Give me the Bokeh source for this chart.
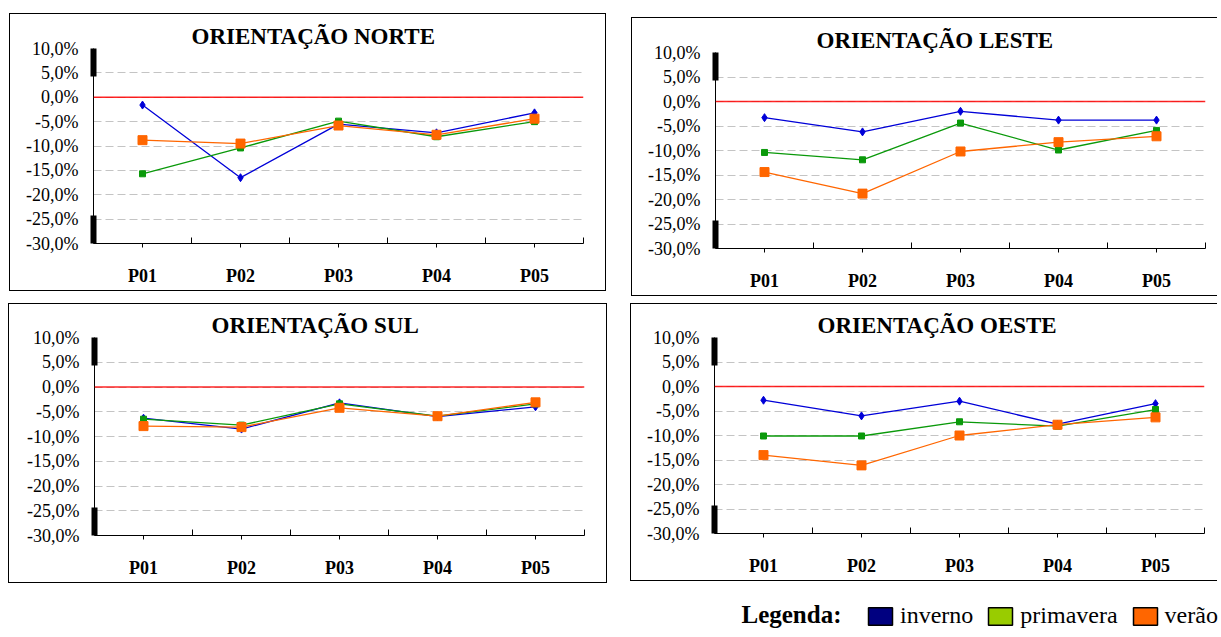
from bokeh.plotting import figure
from bokeh.models import Range1d, LinearAxis, FixedTicker, Grid, Span, Legend, LegendItem, Label
from bokeh.layouts import row, column
from bokeh.embed import file_html
from bokeh.resources import INLINE

# ---------------- data ----------------
categories = ["P01", "P02", "P03", "P04", "P05"]
series_names = ["inverno", "primavera", "verão"]
panel_titles = ["ORIENTAÇÃO NORTE", "ORIENTAÇÃO LESTE", "ORIENTAÇÃO SUL", "ORIENTAÇÃO OESTE"]
y_ticks = [-30, -25, -20, -15, -10, -5, 0, 5, 10]
y_tick_labels = ["-30,0%", "-25,0%", "-20,0%", "-15,0%", "-10,0%", "-5,0%", "0,0%", "5,0%", "10,0%"]
legend_title = "Legenda:"

norte_inverno = [-1.6, -16.5, -5.5, -7.3, -3.2]
norte_primavera = [-15.7, -10.4, -4.9, -8.1, -5.0]
norte_verao = [-8.8, -9.5, -5.8, -7.7, -4.4]

leste_inverno = [-3.3, -6.2, -2.0, -3.8, -3.8]
leste_primavera = [-10.4, -11.9, -4.4, -9.9, -5.9]
leste_verao = [-14.4, -18.8, -10.2, -8.3, -7.1]

sul_inverno = [-6.3, -8.5, -3.2, -6.0, -4.0]
sul_primavera = [-6.5, -7.7, -3.4, -5.9, -3.4]
sul_verao = [-7.9, -8.1, -4.2, -5.9, -3.1]

oeste_inverno = [-2.8, -6.0, -3.0, -7.7, -3.5]
oeste_primavera = [-10.1, -10.1, -7.2, -8.1, -4.7]
oeste_verao = [-14.0, -16.1, -10.0, -7.8, -6.3]

reference_value = 0.0

# ---------------- style ----------------
SERIF = "Liberation Serif"
line_colors = ["#0000D8", "#0A990A", "#FF6600"]
markers = ["diamond", "square", "square"]
marker_sizes = [8, 6, 9]
legend_colors = ["#000080", "#99CC00", "#FF6600"]
BORDER = "1px solid #000000"

xs = list(range(1, len(categories) + 1))


def make_panel(title, series, width, height, mb_left, mb_top, frame_h, title_offset,
               margin, styles, frame_w=490):
    p = figure(width=width, height=height,
               x_range=Range1d(0.5, len(categories) + 0.5),
               y_range=Range1d(y_ticks[0], y_ticks[-1]),
               x_axis_type=None, y_axis_type=None,
               toolbar_location=None, output_backend="svg",
               min_border_left=mb_left, min_border_top=mb_top,
               min_border_right=width - mb_left - frame_w,
               min_border_bottom=height - mb_top - frame_h,
               outline_line_color=None, background_fill_color="white",
               border_fill_color="white", title=title, margin=margin, styles=styles)
    p.title.align = "left"
    p.title.offset = title_offset
    p.title.standoff = 0
    p.title.text_font = SERIF
    p.title.text_font_size = "23px"
    p.title.text_font_style = "bold"
    p.title.text_color = "black"

    # thick black marks on the value axis (broken-axis look)
    for b in [(4.3, y_ticks[-1]), (y_ticks[0], -24.3)]:
        ta = LinearAxis(ticker=FixedTicker(ticks=[]), bounds=b, axis_line_width=6,
                        axis_line_color="black", major_tick_line_color=None,
                        minor_tick_line_color=None, major_label_text_font_size="0px",
                        major_label_standoff=0)
        p.add_layout(ta, "left")

    ya = LinearAxis(ticker=FixedTicker(ticks=y_ticks),
                    major_label_overrides=dict(zip(y_ticks, y_tick_labels)),
                    major_tick_in=0, major_tick_out=0, minor_tick_line_color=None,
                    major_label_standoff=15, axis_line_color="black",
                    major_label_text_font=SERIF, major_label_text_font_size="18px",
                    major_label_text_color="black")
    p.add_layout(ya, "left")

    xa = LinearAxis(ticker=FixedTicker(ticks=xs, minor_ticks=[x + 0.5 for x in xs]),
                    major_label_overrides=dict(zip(xs, categories)),
                    major_tick_in=0, major_tick_out=4, minor_tick_in=6, minor_tick_out=0,
                    major_tick_line_color="black", minor_tick_line_color="black",
                    axis_line_color="black", major_label_standoff=18,
                    major_label_text_font=SERIF, major_label_text_font_size="18px",
                    major_label_text_font_style="bold", major_label_text_color="black")
    p.add_layout(xa, "below")

    p.add_layout(Grid(dimension=1, axis=ya, grid_line_color="#C4C4C4",
                      grid_line_dash="8 4", grid_line_width=1))
    p.add_layout(Span(location=reference_value, dimension="width",
                      line_color="#FF0000", line_width=1.5, line_alpha=0.85))

    for vals, col, mk, sz in zip(series, line_colors, markers, marker_sizes):
        p.line(xs, vals, line_color=col, line_width=1.3)
        p.scatter(xs, vals, marker=mk, size=sz, fill_color=col, line_color=col)
    return p


full = {"border": BORDER}
open_right = {"border-top": BORDER, "border-left": BORDER, "border-bottom": BORDER,
              "border-right": "0px none transparent"}

p1 = make_panel(panel_titles[0], [norte_inverno, norte_primavera, norte_verao],
                597, 278, 83, 33, 197, 98, (13, 0, 0, 9), full)
p2 = make_panel(panel_titles[1], [leste_inverno, leste_primavera, leste_verao],
                586, 279, 83, 34, 196, 101, (17, 0, 0, 25), open_right)
p3 = make_panel(panel_titles[2], [sul_inverno, sul_primavera, sul_verao],
                599, 280, 85, 33, 198, 117, (7, 0, 0, 8), full)
p4 = make_panel(panel_titles[3], [oeste_inverno, oeste_primavera, oeste_verao],
                587, 278, 83, 32, 198, 103, (7, 0, 0, 23), open_right)

# ---------------- legend ----------------
lp = figure(width=485, height=46, x_range=Range1d(0, 1), y_range=Range1d(0, 1),
            x_axis_type=None, y_axis_type=None, toolbar_location=None,
            output_backend="svg", min_border=0, outline_line_color=None,
            background_fill_color="white", border_fill_color="white",
            margin=(0, 0, 0, 735))
nan = float("nan")
items = []
for name, col in zip(series_names, legend_colors):
    r = lp.quad(left=[nan], right=[nan], top=[nan], bottom=[nan], fill_color=col,
                line_color="black", line_width=1.5)
    items.append(LegendItem(label=name, renderers=[r]))
leg = Legend(items=items, orientation="horizontal", location=(130, 0),
             padding=0, margin=0, spacing=12, label_standoff=5,
             glyph_width=30, glyph_height=22, label_text_font=SERIF,
             label_text_font_size="24px", label_text_color="black",
             background_fill_alpha=0, border_line_color=None)
lp.add_layout(leg, "center")
lp.add_layout(Label(x=6, y=15, x_units="screen", y_units="screen", text=legend_title,
                    text_font=SERIF, text_font_size="25px", text_font_style="bold",
                    text_color="black", text_baseline="alphabetic"))

layout = column(row(p1, p2), row(p3, p4), lp)
open("out.html", "w").write(file_html(layout, INLINE))
